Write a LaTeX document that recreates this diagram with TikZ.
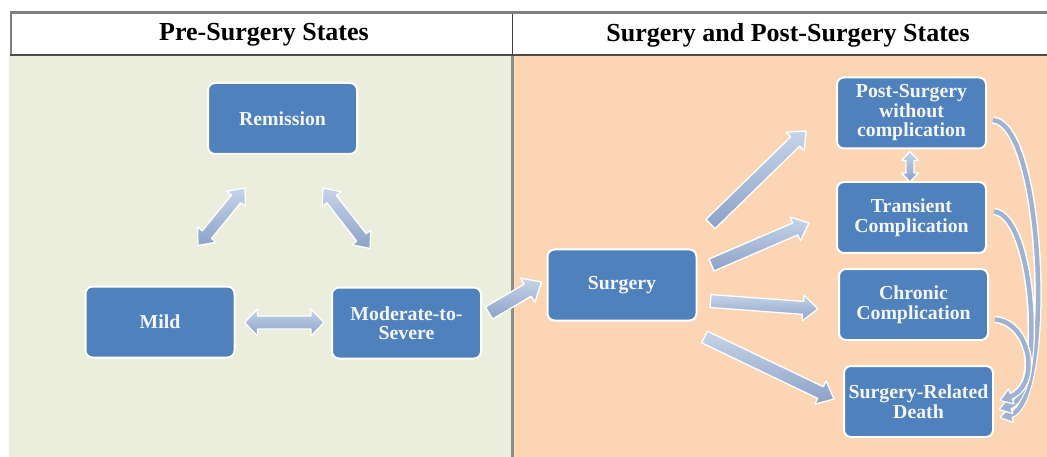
\documentclass[tikz,border=0pt]{standalone}
\usepackage{fontspec}
\setmainfont{Liberation Serif}
\usetikzlibrary{calc}
\definecolor{nodeblue}{HTML}{4F81BD}
\definecolor{leftbg}{HTML}{EBEEDD}
\definecolor{rightbg}{HTML}{FCD5B4}
\definecolor{arrlight}{HTML}{C6D4E9}
\definecolor{arrdark}{HTML}{8BA2C7}
\definecolor{curvecol}{HTML}{9FB2CF}
\definecolor{framegray}{HTML}{7F7F7F}
\definecolor{textwhite}{HTML}{F4F6FA}
\newcommand{\onearrow}[5]{% start, end, shaft half width, head half width, head length
  \coordinate (ah) at ($(#2)!#5!(#1)$);
  \path[blockarr] ($(#1)!#3!90:(#2)$) -- ($(ah)!#3!90:(#2)$) -- ($(ah)!#4!90:(#2)$) -- (#2)
    -- ($(ah)!#4!-90:(#2)$) -- ($(ah)!#3!-90:(#2)$) -- ($(#1)!#3!-90:(#2)$) -- cycle;}
\newcommand{\twoarrow}[5]{%
  \coordinate (ah) at ($(#2)!#5!(#1)$);
  \coordinate (at) at ($(#1)!#5!(#2)$);
  \path[blockarr] (#1) -- ($(at)!#4!90:(#2)$) -- ($(at)!#3!90:(#2)$) -- ($(ah)!#3!90:(#2)$)
    -- ($(ah)!#4!90:(#2)$) -- (#2) -- ($(ah)!#4!-90:(#2)$) -- ($(ah)!#3!-90:(#2)$)
    -- ($(at)!#3!-90:(#2)$) -- ($(at)!#4!-90:(#2)$) -- cycle;}
\newcommand{\curvedarrow}[4]{% start, c1, c2, end
  \draw[white, line width=7.5pt, shorten >=9pt] (#1) .. controls (#2) and (#3) .. (#4);
  \coordinate (cb) at ($(#4)!12pt!(#3)$);
  \path[draw=white, line width=1.2pt, fill=curvecol, line join=round]
    ($(cb)!8pt!90:(#4)$) -- (#4) -- ($(cb)!8pt!-90:(#4)$) -- cycle;
  \draw[curvecol, line width=4.5pt, shorten >=10pt] (#1) .. controls (#2) and (#3) .. (#4);}
\begin{document}
\begin{tikzpicture}[x=1pt,y=-1pt,
  state/.style={draw=white, line width=2pt, fill=nodeblue, rounded corners=7pt,
    minimum width=149pt, minimum height=71pt, text=textwhite, align=center, inner sep=2pt,
    font=\bfseries\fontsize{19.8}{19.5}\selectfont},
  header/.style={font=\bfseries\fontsize{26}{30}\selectfont, text=black},
  blockarr/.style={draw=white, line width=1.3pt, top color=arrlight, bottom color=arrdark, line join=round}]
\useasboundingbox (0,0) rectangle (1047,457);
% panels
\fill[leftbg] (9,55) rectangle (512,457);
\fill[rightbg] (512,55) rectangle (1047,457);
\fill[white] (11,14) rectangle (1047,55);
\draw[framegray, line width=3pt] (9.5,13) -- (1047,13);
\draw[framegray, line width=2pt] (11,13) -- (11,55);
\draw[black!70, line width=1.8pt] (10,55) -- (1047,55);
\draw[black!75, line width=1.2pt] (512.5,14) -- (512.5,55);
\draw[framegray!90, line width=2.5pt] (512.5,56) -- (512.5,457);
% headers
\node[header] (h1) at (264,35) {Pre-Surgery States};
\node[header] (h2) at (788,35) {Surgery and Post-Surgery States};
% states
\node[state] (rem) at (282.5,118.5) {Remission};
\node[state] (mild) at (160,322) {Mild};
\node[state] (mod) at (406.5,323) {Moderate-to-\\Severe};
\node[state] (surg) at (622,285) {Surgery};
\node[state] (post) at (911.5,113) {Post-Surgery\\without\\complication};
\node[state] (trans) at (911.5,217.5) {Transient\\Complication};
\node[state] (chron) at (913.5,304.5) {Chronic\\Complication};
\node[state] (death) at (918.5,401.5) {Surgery-Related\\Death};
% arrow ends
\coordinate (a1) at ($(mild.north)+(38,-40)$);
\coordinate (a2) at ($(rem.south)+(-37.5,33)$);
\coordinate (b1) at ($(rem.south)+(40.5,33)$);
\coordinate (b2) at ($(mod.north)+(-36.5,-38)$);
\coordinate (c1) at ($(mild.east)+(9,0.5)$);
\coordinate (c2) at ($(mod.west)+(-7,-0.5)$);
\coordinate (d1) at ($(mod.east)+(7,-10)$);
\coordinate (d2) at ($(surg.west)+(-5,-3)$);
\coordinate (e1) at ($(surg.east)+(13,-61)$);
\coordinate (e2) at ($(post.west)+(-30,18)$);
\coordinate (f1) at ($(surg.east)+(14,-20)$);
\coordinate (f2) at ($(trans.west)+(-27,5.5)$);
\coordinate (g1) at ($(surg.east)+(13,16)$);
\coordinate (g2) at ($(chron.west)+(-20,4.5)$);
\coordinate (k1) at ($(surg.east)+(7,52)$);
\coordinate (k2) at ($(death.west)+(-9,-2.5)$);
\coordinate (m1) at ($(post.south)+(-1.5,2)$);
\coordinate (m2) at ($(trans.north)+(-1.5,1)$);
% block arrows
\twoarrow{a1}{a2}{6pt}{12pt}{14pt}
\twoarrow{b1}{b2}{6pt}{12pt}{14pt}
\twoarrow{c1}{c2}{6.5pt}{13.5pt}{13pt}
\onearrow{d1}{d2}{7pt}{14pt}{16pt}
\onearrow{e1}{e2}{6.5pt}{13pt}{15pt}
\onearrow{f1}{f2}{6.5pt}{13pt}{15pt}
\onearrow{g1}{g2}{6.5pt}{13pt}{15pt}
\onearrow{k1}{k2}{6.5pt}{13pt}{15pt}
\twoarrow{m1}{m2}{4pt}{8.5pt}{9pt}
% curved arrows to death
\coordinate (p1) at ($(post.east)+(6,7)$);
\coordinate (p2) at ($(death.east)+(6,16)$);
\coordinate (t1) at ($(trans.east)+(7,-6)$);
\coordinate (t2) at ($(death.east)+(5,8)$);
\coordinate (r1) at ($(chron.east)+(6,15)$);
\coordinate (r2) at ($(death.east)+(6,-1)$);
\curvedarrow{p1}{1045,125}{1054,405}{p2}
\curvedarrow{t1}{1035,215}{1046,395}{t2}
\curvedarrow{r1}{1030,322}{1042,385}{r2}
\end{tikzpicture}
\end{document}
